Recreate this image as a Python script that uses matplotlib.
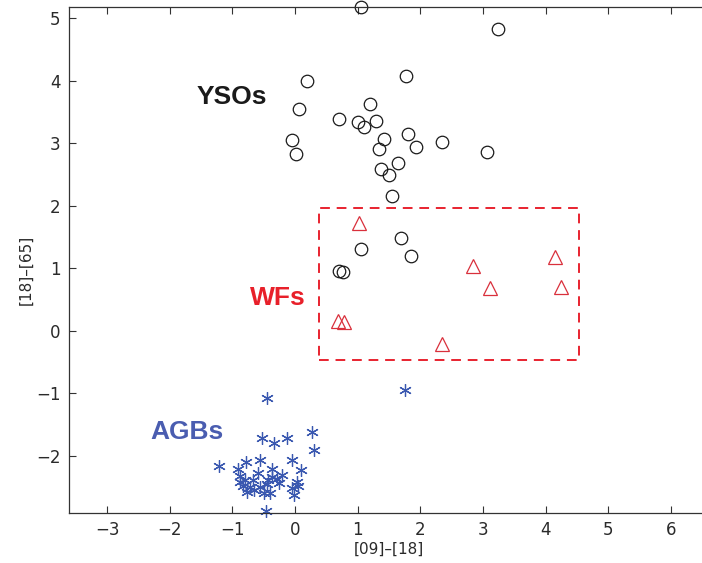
import matplotlib
matplotlib.use("Agg")
import matplotlib.pyplot as plt
from matplotlib.patches import Rectangle

# YSOs (circles)
yso_x = [1.05, 3.24, 0.20, 1.78, 0.06, 1.20, 0.70, 1.01, 1.11, 1.29, -0.04, 0.02, 1.42, 1.81,
         1.34, 1.94, 2.34, 3.07, 1.65, 1.38, 1.50, 1.55, 1.05, 1.70, 1.85, 0.70, 0.77]
yso_y = [5.17, 4.82, 3.99, 4.08, 3.54, 3.62, 3.39, 3.34, 3.26, 3.35, 3.05, 2.82, 3.07, 3.14,
         2.90, 2.94, 3.02, 2.86, 2.69, 2.59, 2.49, 2.16, 1.31, 1.49, 1.19, 0.96, 0.94]

# WFs (triangles)
wf_x = [1.03, 2.84, 3.11, 4.15, 4.24, 0.69, 0.79, 2.34]
wf_y = [1.73, 1.04, 0.68, 1.18, 0.70, 0.15, 0.14, -0.21]

# AGBs (asterisks)
agb_x = [1.76, -0.45, -0.52, -0.34, -0.13, 0.28, 0.31, -1.21, -0.78, -0.55, -0.04, 0.10,
         -0.91, -0.59, -0.36, -0.21, -0.87, -0.83, -0.72, -0.65, -0.56, -0.43, -0.45, -0.40,
         -0.25, -0.28, 0.03, 0.05, -0.02, -0.46, -0.37, -0.67, -0.80, -0.88, -0.77, -0.50, -0.05]
agb_y = [-0.94, -1.08, -1.71, -1.79, -1.71, -1.62, -1.91, -2.16, -2.09, -2.06, -2.07, -2.22,
         -2.21, -2.27, -2.21, -2.31, -2.32, -2.48, -2.49, -2.54, -2.50, -2.38, -2.45, -2.60,
         -2.43, -2.37, -2.42, -2.48, -2.62, -2.88, -2.33, -2.38, -2.38, -2.41, -2.57, -2.59, -2.51]

# WF selection box: x0, x1, y0, y1
box_x = [0.38, 4.54]
box_y = [-0.46, 1.96]

x_ticks = [-3, -2, -1, 0, 1, 2, 3, 4, 5, 6]
y_ticks = [-2, -1, 0, 1, 2, 3, 4, 5]

fig = plt.figure(figsize=(7.02, 5.63), dpi=100)
ax = fig.add_axes([0.098, 0.089, 0.912, 0.899])

ax.plot(yso_x, yso_y, linestyle='none', marker='o', markersize=9, markerfacecolor='none',
        markeredgecolor='#1a1a1a', markeredgewidth=0.9, clip_on=False)
ax.plot(wf_x, wf_y, linestyle='none', marker='^', markersize=9.5, markerfacecolor='none',
        markeredgecolor='#d9303c', markeredgewidth=0.9, clip_on=False)
ax.plot(agb_x, agb_y, linestyle='none', marker=(6, 2, 0), markersize=9,
        markeredgecolor='#3a58b0', markeredgewidth=0.9, clip_on=False)

ax.add_patch(Rectangle((box_x[0], box_y[0]), box_x[1] - box_x[0], box_y[1] - box_y[0],
                       fill=False, edgecolor='#e8232f', linewidth=1.4,
                       linestyle=(0, (5, 3.5))))

ax.text(-1.0, 3.74, 'YSOs', color='#1a1a1a', fontsize=19, fontweight='bold',
        family='Liberation Sans', ha='center', va='center')
ax.text(-0.27, 0.53, 'WFs', color='#e8202a', fontsize=19, fontweight='bold',
        family='Liberation Sans', ha='center', va='center')
ax.text(-1.73, -1.61, 'AGBs', color='#4a5db0', fontsize=19, fontweight='bold',
        family='Liberation Sans', ha='center', va='center')

ax.set_xlim(-3.61, 6.61)
ax.set_ylim(-2.91, 5.18)
ax.set_xticks(x_ticks)
ax.set_yticks(y_ticks)
ax.set_xticklabels([f'\u2212{abs(t)}' if t < 0 else str(t) for t in x_ticks])
ax.set_yticklabels([f'\u2212{abs(t)}' if t < 0 else str(t) for t in y_ticks])
ax.tick_params(direction='in', length=5, width=0.8, top=True, right=True,
               labelsize=12, colors='#333333', labelcolor='#2a2a2a', pad=6)
for s in ax.spines.values():
    s.set_color('#333333')
    s.set_linewidth(0.9)

ax.set_xlabel('[09]–[18]', fontsize=11, color='#2a2a2a', labelpad=2)
ax.set_ylabel('[18]–[65]', fontsize=11, color='#2a2a2a', va='center')
ax.yaxis.set_label_coords(-0.066, 0.48)

fig.savefig('out.png', dpi=100)
